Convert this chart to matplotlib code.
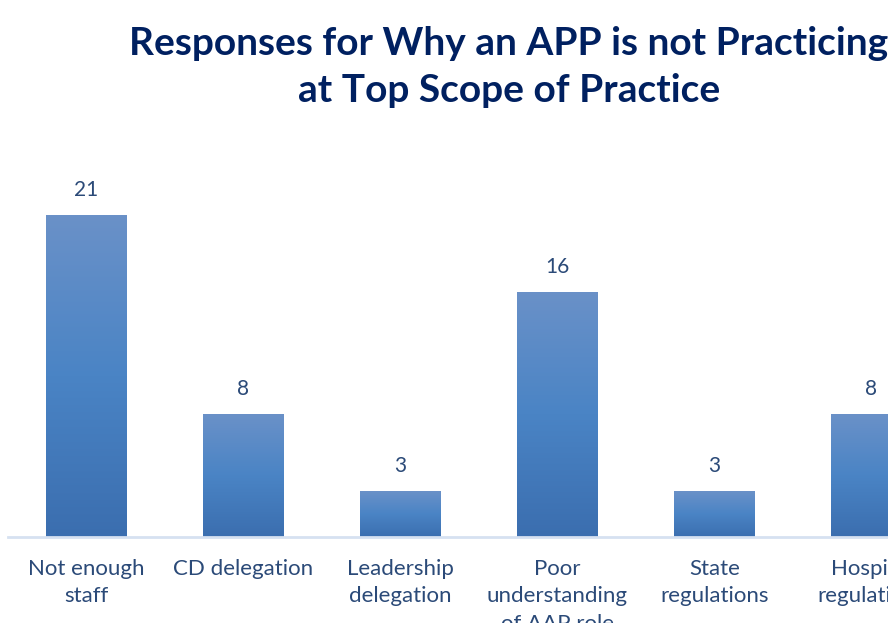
import numpy as np
import matplotlib.pyplot as plt
from matplotlib.colors import LinearSegmentedColormap

categories = ["Not enough\nstaff", "CD delegation", "Leadership\ndelegation",
              "Poor\nunderstanding\nof AAP role", "State\nregulations",
              "Hospital\nregulations"]
counts = [21, 8, 3, 16, 3, 8]

W, H = 888, 623
fig = plt.figure(figsize=(W/100, H/100), dpi=100)

slot = 157
n = len(categories)
ax = fig.add_axes([8/W, 86/H, n*slot/W, 23*15.33/H])

label_col = '#2b4a78'
grad = LinearSegmentedColormap.from_list('g', ['#3b6eaf', '#4a84c5', '#6a91c8'])
gimg = np.linspace(0, 1, 256).reshape(-1, 1)

x = np.arange(n)
bars = ax.bar(x, counts, width=0.51, color='none', edgecolor='none')
for b, v in zip(bars, counts):
    x0 = b.get_x()
    im = ax.imshow(gimg, extent=[x0, x0 + b.get_width(), 0, v], origin='lower',
                   cmap=grad, aspect='auto', zorder=2)
    im.set_clip_path(b)
    ax.annotate(str(v), (b.get_x() + b.get_width()/2, v), xytext=(0, 18),
                textcoords='offset points', ha='center', va='center',
                fontsize=15, color=label_col, family='Lato')

ax.set_xlim(-0.5, n - 0.5)
ax.set_ylim(0, 23)
ax.set_yticks([])
ax.set_xticks(x)
ax.set_xticklabels(categories, fontsize=16, color=label_col, family='Lato',
                   linespacing=1.45, va='top')
ax.tick_params(axis='x', length=0, pad=16)
for sp in ['top', 'right', 'left']:
    ax.spines[sp].set_visible(False)
ax.spines['bottom'].set_color('#d6e1f1')
ax.spines['bottom'].set_linewidth(2)

fig.text(509/W, 1 - 67/H, "Responses for Why an APP is not Practicing\nat Top Scope of Practice",
         ha='center', va='center', fontsize=28, fontweight='bold',
         color='#002060', family='Lato', linespacing=1.44)

fig.savefig('out.png', dpi=100)
